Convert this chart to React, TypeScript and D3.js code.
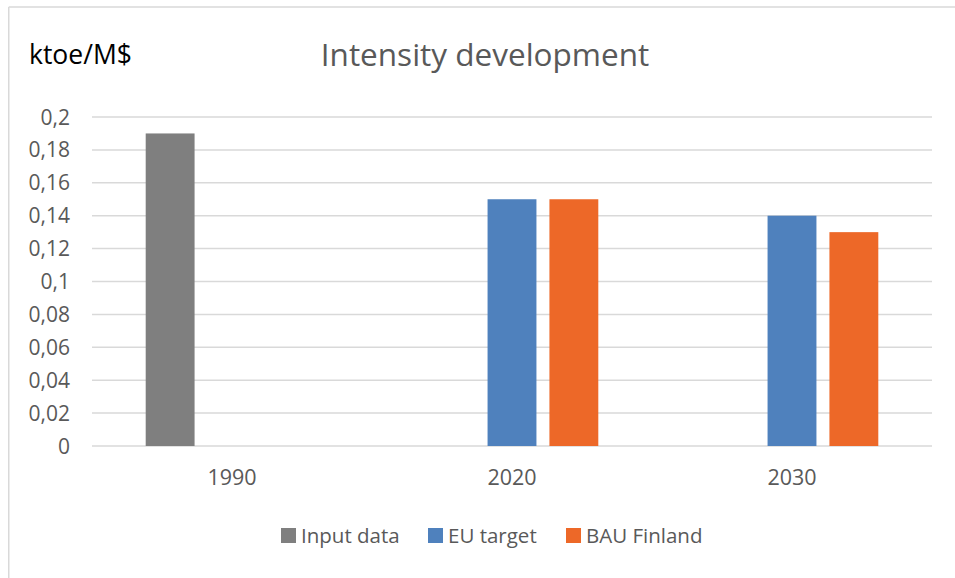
import React from "react";
import * as d3 from "d3";

const categories = ["1990", "2020", "2030"];
const seriesNames = ["Input data", "EU target", "BAU Finland"];
const inputData = [0.19, null, null];
const euTarget = [null, 0.15, 0.14];
const bauFinland = [null, 0.15, 0.13];
const yTicks = [0, 0.02, 0.04, 0.06, 0.08, 0.1, 0.12, 0.14, 0.16, 0.18, 0.2];
const yTickLabels = ["0", "0,02", "0,04", "0,06", "0,08", "0,1", "0,12", "0,14", "0,16", "0,18", "0,2"];

const colors = ["#7f7f7f", "#4f81bd", "#ed6828"];
const W = 955;
const H = 578;
const FONT = "'Open Sans', 'Noto Sans', sans-serif";

export default function App() {
  const series = [inputData, euTarget, bauFinland];
  const x0 = d3.scaleBand<string>().domain(categories).range([92, 932]).paddingInner(0).paddingOuter(0);
  const x1 = d3
    .scaleBand<string>()
    .domain(seriesNames)
    .range([53.7, x0.bandwidth() - 53.7])
    .paddingInner(0.21)
    .paddingOuter(0);
  const y = d3.scaleLinear().domain([0, 0.2]).range([446, 117]);
  const legendX = [281, 428, 566];

  return (
    <svg
      width={W}
      height={H}
      style={{ position: "absolute", left: 0, top: 0, display: "block", background: "#fff" }}
    >
      <rect x={0} y={0} width={W} height={H} fill="#fff" />
      <line x1={8.75} y1={7} x2={W} y2={7} stroke="#d9d9d9" strokeWidth={1.5} />
      <line x1={8.75} y1={7} x2={8.75} y2={H} stroke="#d9d9d9" strokeWidth={1.5} />

      {yTicks.map((t) => (
        <line
          key={"g" + t}
          x1={92}
          x2={932}
          y1={y(t)}
          y2={y(t)}
          stroke="#d9d9d9"
          strokeWidth={1.5}
        />
      ))}

      {yTicks.map((t, i) => (
        <text
          key={"t" + t}
          x={70}
          y={y(t) + 7.5}
          textAnchor="end"
          fontFamily={FONT}
          fontSize={21}
          fill="#595959"
        >
          {yTickLabels[i]}
        </text>
      ))}

      {categories.map((c, ci) =>
        series.map((s, si) => {
          const v = s[ci];
          if (v == null) return null;
          const bx = (x0(c) as number) + (x1(seriesNames[si]) as number);
          return (
            <rect
              key={c + si}
              x={bx}
              y={y(v)}
              width={x1.bandwidth()}
              height={y(0) - y(v)}
              fill={colors[si]}
            />
          );
        })
      )}

      {categories.map((c) => (
        <text
          key={"c" + c}
          x={(x0(c) as number) + x0.bandwidth() / 2}
          y={485}
          textAnchor="middle"
          fontFamily={FONT}
          fontSize={21.5}
          fill="#595959"
        >
          {c}
        </text>
      ))}

      <text x={485} y={66} textAnchor="middle" fontFamily={FONT} fontSize={31.5} fill="#595959">
        Intensity development
      </text>
      <text x={29} y={64} fontFamily={FONT} fontSize={26.5} fill="#000">
        ktoe/M$
      </text>

      {seriesNames.map((n, i) => (
        <g key={"l" + n} transform={`translate(${legendX[i]},0)`}>
          <rect x={0} y={528} width={15} height={15} fill={colors[i]} />
          <text x={20} y={543} fontFamily={FONT} fontSize={20.5} fill="#595959">
            {n}
          </text>
        </g>
      ))}
    </svg>
  );
}
